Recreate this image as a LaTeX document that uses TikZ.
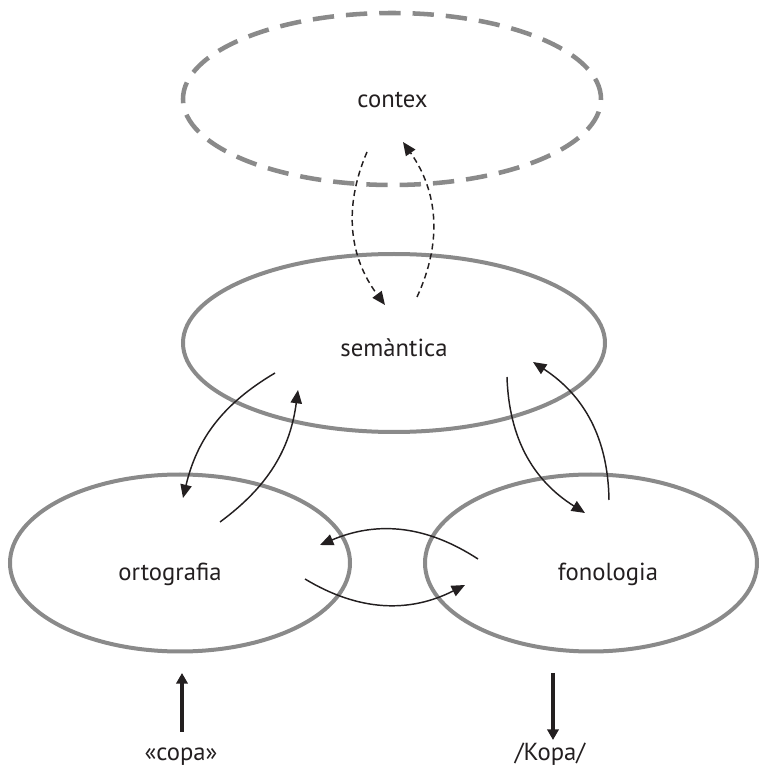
\documentclass[tikz,border=0pt]{standalone}
\usepackage{fontspec}
\setmainfont{PT Sans}
\usetikzlibrary{shapes.geometric,arrows.meta}
\definecolor{ringgray}{HTML}{8A8A8A}
\definecolor{ink}{HTML}{231F20}

\begin{document}
\begin{tikzpicture}[x=0.75pt,y=0.75pt,
  bubble/.style={ellipse, draw=ringgray, line width=3pt, inner sep=0pt},
  dashbubble/.style={bubble, line width=3.4pt, dash pattern=on 16pt off 9pt},
  word/.style={anchor=base, inner sep=0pt, text=ink, font=\fontsize{18.5}{22}\selectfont},
  flow/.style={draw=ink, line width=1.1pt, -{Triangle[length=10pt,width=8.5pt]}},
  dflow/.style={flow, dash pattern=on 4.5pt off 3pt},
  io/.style={draw=ink, line width=2.6pt, -{Triangle[length=8pt,width=8.5pt]}}]
\useasboundingbox (0,0) rectangle (760,769);

% the four levels
\node[dashbubble, minimum width=313.5pt, minimum height=129pt] (ctx) at (392,670) {};
\node[bubble, minimum width=316.5pt, minimum height=133.5pt] (sem) at (394,426) {};
\node[bubble, minimum width=255pt, minimum height=132.75pt] (ort) at (180,206) {};
\node[bubble, minimum width=249pt, minimum height=132.75pt] (fon) at (591,206) {};

% labels
\node[word] (tctx) at (392.5,661) {contex};
\node[word] (tsem) at (394,412) {semàntica};
\node[word] (tort) at (170,188) {ortografia};
\node[word] (tfon) at (608,188) {fonologia};
\node[word] (tin) at (181,8) {«copa»};
\node[word] (tout) at (550,8) {/Kopa/};

% end points of the connectors
\coordinate (cs0) at (367,617);  \coordinate (cs1) at (385,464);
\coordinate (sc0) at (417,472);  \coordinate (sc1) at (403,627);
\coordinate (so0) at (275,396);  \coordinate (so1) at (183,271);
\coordinate (os0) at (220,247);  \coordinate (os1) at (298,379);
\coordinate (sf0) at (507,392);  \coordinate (sf1) at (585,256);
\coordinate (fs0) at (609,269);  \coordinate (fs1) at (533,407);
\coordinate (fo0) at (478,210);  \coordinate (fo1) at (320,224);
\coordinate (of0) at (305,190);  \coordinate (of1) at (465,184);
\coordinate (in0) at (182,37);   \coordinate (in1) at (182,96);
\coordinate (out0) at (553,96);  \coordinate (out1) at (553,29);

% context <-> semantics
\draw[dflow] (cs0) to[bend right=30] (cs1);
\draw[dflow] (sc0) to[bend right=30] (sc1);

% semantics <-> orthography
\draw[flow] (so0) to[bend right=23] (so1);
\draw[flow] (os0) to[bend right=23] (os1);

% semantics <-> phonology
\draw[flow] (sf0) to[bend right=28] (sf1);
\draw[flow] (fs0) to[bend right=28] (fs1);

% orthography <-> phonology
\draw[flow] (fo0) to[bend right=28] (fo1);
\draw[flow] (of0) to[bend right=29] (of1);

% input and output
\draw[io] (in0) -- (in1);
\draw[io] (out0) -- (out1);
\end{tikzpicture}
\end{document}
